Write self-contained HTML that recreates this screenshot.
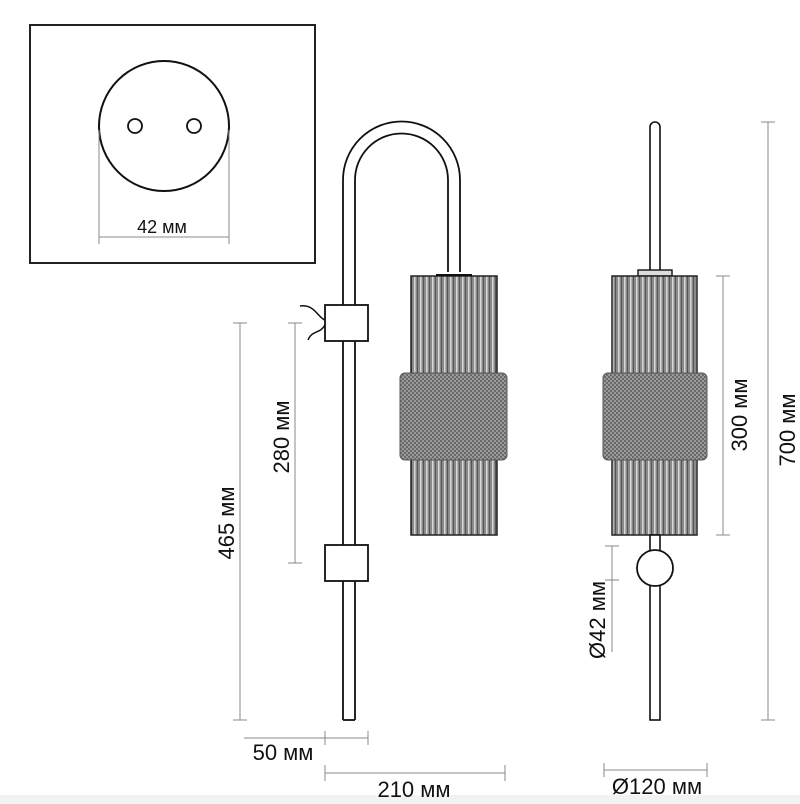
<!DOCTYPE html>
<html><head><meta charset="utf-8"><style>html,body{margin:0;padding:0;background:#fff}svg{display:block}</style></head>
<body>
<svg width="800" height="804" viewBox="0 0 800 804" xmlns="http://www.w3.org/2000/svg" font-family="Liberation Sans, DejaVu Sans, sans-serif">
<defs>
<pattern id="rib" width="6" height="10" patternUnits="userSpaceOnUse">
<rect width="6" height="10" fill="#8a8a8a"/>
<rect x="0" width="1.5" height="10" fill="#d8d8d8"/>
<rect x="3" width="1" height="10" fill="#555"/>
</pattern>
<pattern id="knurl" width="4" height="4" patternUnits="userSpaceOnUse">
<rect width="4" height="4" fill="#9a9a9a"/>
<rect x="0" y="0" width="2" height="2" fill="#6a6a6a"/>
<rect x="2" y="2" width="2" height="2" fill="#6a6a6a"/>
</pattern>
</defs>
<rect x="0" y="795" width="800" height="9" fill="#f2f2f2"/>
<!-- inset -->
<rect x="30" y="25" width="285" height="238" fill="none" stroke="#222" stroke-width="2"/>
<circle cx="164" cy="126" r="65" fill="none" stroke="#111" stroke-width="2"/>
<circle cx="135" cy="126" r="7" fill="none" stroke="#111" stroke-width="1.8"/>
<circle cx="194" cy="126" r="7" fill="none" stroke="#111" stroke-width="1.8"/>
<g stroke="#888" stroke-width="1" fill="none">
<line x1="99" y1="130" x2="99" y2="244"/><line x1="229" y1="130" x2="229" y2="244"/>
<line x1="99" y1="237" x2="229" y2="237"/>
</g>
<text x="162" y="233" font-size="18" text-anchor="middle" fill="#111">42 мм</text>

<!-- left lamp -->
<path d="M343,720 V180 A58.5,58.5 0 0 1 460,180 V272" fill="none" stroke="#111" stroke-width="1.8"/>
<path d="M355,720 V180 A46.5,46.5 0 0 1 448,180 V272" fill="none" stroke="#111" stroke-width="1.8"/>
<line x1="343" y1="720" x2="355" y2="720" stroke="#111" stroke-width="1.8"/>
<rect x="325" y="305" width="43" height="36" fill="#fff" stroke="#111" stroke-width="1.8"/>
<rect x="325" y="545" width="43" height="36" fill="#fff" stroke="#111" stroke-width="1.8"/>
<path d="M300,306 C315,304 318,318 325,320 M308,340 C312,330 320,334 325,325" fill="none" stroke="#111" stroke-width="1.5"/>
<rect x="411" y="276" width="86" height="259" fill="url(#rib)" stroke="#222" stroke-width="1.5"/>
<line x1="436" y1="275" x2="472" y2="275" stroke="#111" stroke-width="2"/>
<rect x="400" y="373" width="107" height="87" rx="5" fill="url(#knurl)" stroke="#555" stroke-width="1"/>

<!-- right lamp -->
<path d="M650,272 V127 A5,5 0 0 1 660,127 V272" fill="#fff" stroke="#111" stroke-width="1.6"/>
<rect x="638" y="270" width="34" height="6" fill="#ddd" stroke="#111" stroke-width="1.4"/>
<rect x="612" y="276" width="85" height="259" fill="url(#rib)" stroke="#222" stroke-width="1.5"/>
<rect x="603" y="373" width="104" height="87" rx="5" fill="url(#knurl)" stroke="#555" stroke-width="1"/>
<rect x="650" y="535" width="10" height="16" fill="#fff" stroke="#111" stroke-width="1.6"/>
<rect x="650" y="584" width="10" height="136" fill="#fff" stroke="#111" stroke-width="1.6"/>
<circle cx="655" cy="568" r="18" fill="#fff" stroke="#111" stroke-width="1.8"/>

<!-- dimensions -->
<g stroke="#888" stroke-width="1" fill="none">
<line x1="240" y1="323" x2="240" y2="720"/><line x1="233" y1="323" x2="247" y2="323"/><line x1="233" y1="720" x2="247" y2="720"/>
<line x1="295" y1="323" x2="295" y2="563"/><line x1="288" y1="323" x2="302" y2="323"/><line x1="288" y1="563" x2="302" y2="563"/>
<line x1="723" y1="276" x2="723" y2="535"/><line x1="716" y1="276" x2="730" y2="276"/><line x1="716" y1="535" x2="730" y2="535"/>
<line x1="768" y1="122" x2="768" y2="720"/><line x1="761" y1="122" x2="775" y2="122"/><line x1="761" y1="720" x2="775" y2="720"/>
<line x1="612" y1="546" x2="612" y2="652"/><line x1="605" y1="546" x2="619" y2="546"/><line x1="605" y1="580" x2="619" y2="580"/>
<line x1="244" y1="738" x2="368" y2="738"/><line x1="325" y1="731" x2="325" y2="745"/><line x1="368" y1="731" x2="368" y2="745"/>
<line x1="325" y1="773" x2="505" y2="773"/><line x1="325" y1="765" x2="325" y2="781"/><line x1="505" y1="765" x2="505" y2="781"/>
<line x1="604" y1="770" x2="707" y2="770"/><line x1="604" y1="763" x2="604" y2="777"/><line x1="707" y1="763" x2="707" y2="777"/>
</g>
<g font-size="22" fill="#111" text-anchor="middle">
<text transform="translate(234,523) rotate(-90)">465 мм</text>
<text transform="translate(289,437) rotate(-90)">280 мм</text>
<text transform="translate(747,415) rotate(-90)">300 мм</text>
<text transform="translate(795,430) rotate(-90)">700 мм</text>
<text transform="translate(605,620) rotate(-90)">Ø42 мм</text>
<text x="283" y="760">50 мм</text>
<text x="414" y="797">210 мм</text>
<text x="657" y="794">Ø120 мм</text>
</g>
</svg>
</body></html>
